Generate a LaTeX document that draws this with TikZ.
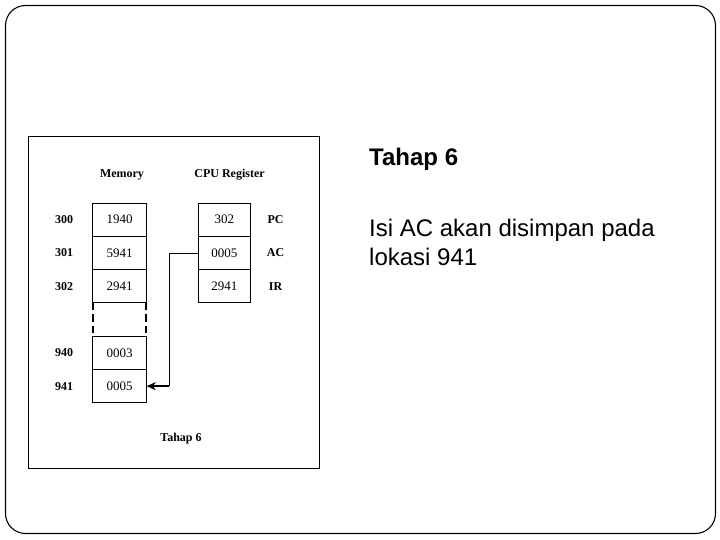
\documentclass[tikz,border=0pt]{standalone}
\usepackage{fontspec}
\setmainfont{Liberation Serif}
\newfontfamily\arialfont{Liberation Sans}
\usetikzlibrary{arrows.meta}
\begin{document}
\begin{tikzpicture}[x=1pt,y=-1pt,
  cell/.style={draw, line width=0.9pt, minimum width=53.5pt, minimum height=33.3pt, inner sep=0pt, font=\fontsize{13}{15}\selectfont},
  rcell/.style={cell, minimum width=52.5pt},
  addr/.style={font=\fontsize{12}{14}\selectfont\bfseries, inner sep=0pt},
  head/.style={font=\fontsize{12}{14}\selectfont\bfseries, inner sep=0pt},
  dashside/.style={line width=2pt, dash pattern=on 7.5pt off 4pt},
  thinline/.style={line width=0.9pt},
  arrowline/.style={line width=1.8pt, -{Stealth[length=9pt,width=8pt]}},
  slidetitle/.style={font=\arialfont\fontsize{24}{29}\selectfont\bfseries, anchor=base west, inner sep=0pt},
  slidebody/.style={font=\arialfont\fontsize{24}{29}\selectfont, anchor=base west, inner sep=0pt, align=left}
]
\useasboundingbox (0,0) rectangle (720,540);
% outer slide frame
\draw[line width=1.1pt, rounded corners=20pt] (5.5,5.5) rectangle (715.5,533.5);
% diagram frame
\draw[line width=1pt] (28.5,136.5) rectangle (319,468.5);

% headings
\node[head] (hmem) at (122,175) {Memory};
\node[head] (hcpu) at (229.5,175) {CPU Register};

% memory cells
\node[cell] (m300) at (119.5,219.65) {1940};
\node[cell] (m301) at (119.5,252.95) {5941};
\node[cell] (m302) at (119.5,286.25) {2941};
\node[minimum width=53.5pt, minimum height=33.3pt, inner sep=0pt] (gap) at (119.5,319.55) {};
\node[cell] (m940) at (119.5,352.85) {0003};
\node[cell] (m941) at (119.5,386.15) {0005};
\draw[dashside] (gap.north west) -- (gap.south west);
\draw[dashside] (gap.north east) -- (gap.south east);

% addresses
\node[addr] (a300) at (64,219.65) {300};
\node[addr] (a301) at (64,252.95) {301};
\node[addr] (a302) at (64,286.25) {302};
\node[addr] (a940) at (64,352.85) {940};
\node[addr] (a941) at (64,386.15) {941};

% CPU registers
\node[rcell] (rpc) at (224.25,219.65) {302};
\node[rcell] (rac) at (224.25,252.95) {0005};
\node[rcell] (rir) at (224.25,286.25) {2941};
\node[addr] (lpc) at (275.5,219.65) {PC};
\node[addr] (lac) at (275.5,252.95) {AC};
\node[addr] (lir) at (275.5,286.25) {IR};

% connector
\coordinate (bend) at (169.4,386.15);
\draw[thinline] (rac.west) -| (bend);
\draw[arrowline] (bend) -- (m941.east);

% caption
\node[head] (cap) at (181,439) {Tahap 6};

% slide text
\node[slidetitle] (title) at (369,165.5) {Tahap 6};
\node[slidebody] (body) at (369,265.5) {Isi AC akan disimpan pada\\lokasi 941};
\end{tikzpicture}
\end{document}
